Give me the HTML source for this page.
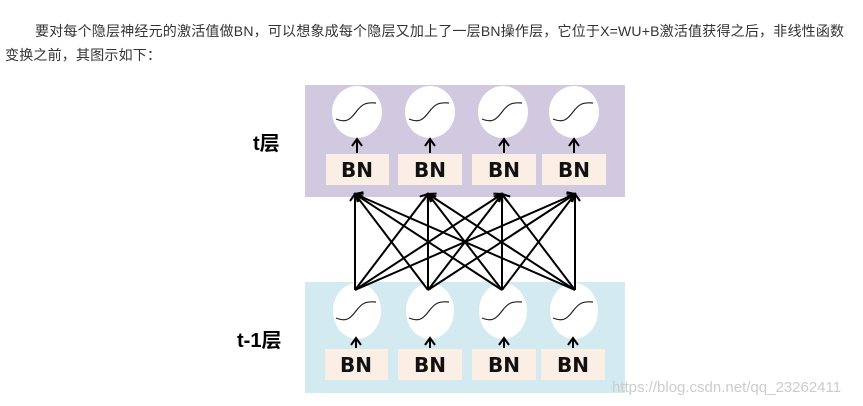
<!DOCTYPE html>
<html><head><meta charset="utf-8"><style>
body{margin:0;width:863px;height:406px;background:#fff;overflow:hidden;position:relative;font-family:"Liberation Sans","Noto Sans CJK SC",sans-serif}
.t{position:absolute;font-size:14px;color:#333;white-space:nowrap;letter-spacing:0.2px}
</style></head><body>
<div class="t" style="left:35px;top:21px">要对每个隐层神经元的激活值做BN，可以想象成每个隐层又加上了一层BN操作层，它位于X=WU+B激活值获得之后，非线性函数</div>
<div class="t" style="left:5px;top:45px">变换之前，其图示如下：</div>
<svg width="863" height="406" style="position:absolute;left:0;top:0">
<defs><marker id="a" markerWidth="12" markerHeight="12" refX="9" refY="6" orient="auto" markerUnits="userSpaceOnUse"><path d="M2,1 L9,6 L2,11" fill="none" stroke="#000" stroke-width="2"/></marker></defs>
<rect x="305" y="85" width="320" height="112" fill="#d1c9df"/>
<rect x="305" y="282" width="320" height="111" fill="#d3eaf0"/>
<g font-family="Liberation Sans,Noto Sans CJK SC,sans-serif" font-weight="bold" font-size="20" fill="#000">
<text x="253" y="150">t层</text><text x="237" y="347">t-1层</text></g>
<g fill="#fbeee4">
<rect x="326" y="154" width="63" height="31"/><rect x="398" y="154" width="64" height="31"/><rect x="472" y="154" width="64" height="31"/><rect x="542" y="154" width="64" height="31"/>
<rect x="325" y="349" width="63" height="31"/><rect x="398" y="349" width="64" height="31"/><rect x="472" y="349" width="64" height="31"/><rect x="541" y="349" width="64" height="31"/></g>
<g font-family="DejaVu Sans,sans-serif" font-weight="bold" font-size="20" fill="#111" text-anchor="middle">
<text x="357" y="177">BN</text><text x="430" y="177">BN</text><text x="504" y="177">BN</text><text x="574" y="177">BN</text>
<text x="356" y="372">BN</text><text x="430" y="372">BN</text><text x="504" y="372">BN</text><text x="573" y="372">BN</text></g>
<g fill="#fff">
<ellipse cx="357" cy="112" rx="25" ry="26"/><ellipse cx="430" cy="112" rx="25" ry="26"/><ellipse cx="503" cy="112" rx="25" ry="26"/><ellipse cx="574" cy="112" rx="25" ry="26"/>
<ellipse cx="357" cy="311" rx="24" ry="28"/><ellipse cx="430" cy="311" rx="24" ry="28"/><ellipse cx="503" cy="311" rx="24" ry="28"/><ellipse cx="574" cy="311" rx="24" ry="28"/></g>
<g fill="none" stroke="#222" stroke-width="1.2">
<path id="s" d="M336,119 C346,123 350,120 356,112 C362,104 366,102 376,103"/>
<use href="#s" x="73"/><use href="#s" x="146"/><use href="#s" x="217"/>
<use href="#s" y="199"/><use href="#s" x="73" y="199"/><use href="#s" x="146" y="199"/><use href="#s" x="217" y="199"/></g>
<g stroke="#000" stroke-width="2" marker-end="url(#a)">
<line x1="357" y1="153" x2="357" y2="139"/><line x1="430" y1="153" x2="430" y2="139"/><line x1="504" y1="153" x2="504" y2="139"/><line x1="574" y1="153" x2="574" y2="139"/>
<line x1="356" y1="348" x2="356" y2="338"/><line x1="430" y1="348" x2="430" y2="338"/><line x1="504" y1="348" x2="504" y2="338"/><line x1="573" y1="348" x2="573" y2="338"/>
</g>
<g stroke="#000" stroke-width="2" marker-end="url(#a)">
<line x1="355" y1="290" x2="355" y2="194"/><line x1="355" y1="290" x2="428" y2="194"/><line x1="355" y1="290" x2="502" y2="194"/><line x1="355" y1="290" x2="575" y2="194"/>
<line x1="428" y1="290" x2="355" y2="194"/><line x1="428" y1="290" x2="428" y2="194"/><line x1="428" y1="290" x2="502" y2="194"/><line x1="428" y1="290" x2="575" y2="194"/>
<line x1="502" y1="290" x2="355" y2="194"/><line x1="502" y1="290" x2="428" y2="194"/><line x1="502" y1="290" x2="502" y2="194"/><line x1="502" y1="290" x2="575" y2="194"/>
<line x1="575" y1="290" x2="355" y2="194"/><line x1="575" y1="290" x2="428" y2="194"/><line x1="575" y1="290" x2="502" y2="194"/><line x1="575" y1="290" x2="575" y2="194"/>
</g>
<text x="612" y="392" font-family="Liberation Sans,sans-serif" font-size="15" fill="#ccc">https://blog.csdn.net/qq_23262411</text>
</svg>
</body></html>
